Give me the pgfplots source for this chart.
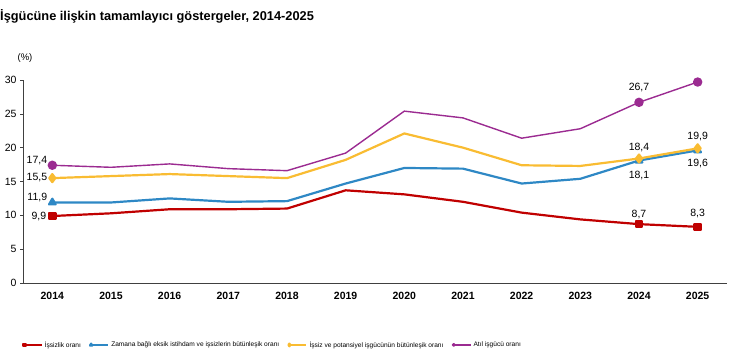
\documentclass[border=0pt]{standalone}
\usepackage{fontspec}
\setmainfont{Liberation Sans}
\usepackage{pgfplots}
\pgfplotsset{compat=1.18}
\definecolor{cred}{HTML}{C00000}
\definecolor{cblue}{HTML}{2E88C5}
\definecolor{cyel}{HTML}{F9BC32}
\definecolor{cpur}{HTML}{9B2B91}
\begin{document}
\begin{tikzpicture}[x=1pt,y=1pt]
\path[use as bounding box] (0,0) rectangle (730,360);
\node[anchor=base west,inner sep=0pt,font=\bfseries\fontsize{12.8}{14}\selectfont] at (0,340) {İşgücüne ilişkin tamamlayıcı göstergeler, 2014-2025};
\node[font=\fontsize{9.5}{11}\selectfont] at (25,302) {(\%)};
\begin{axis}[
  at={(23pt,77pt)}, anchor=south west,
  scale only axis, width=704pt, height=203pt,
  xmin=2013.5, xmax=2025.5, ymin=0, ymax=30,
  xtick={2014,...,2025}, ytick={0,5,...,30},
  /pgf/number format/1000 sep={},
  /pgf/number format/assume math mode=true,
  axis x line=bottom, axis y line=left,
  axis line style={-, black!75, line width=0.8pt},
  x tick label style={font=\bfseries\fontsize{10.5}{12}\selectfont, yshift=-3pt},
  y tick label style={font=\fontsize{10.5}{12}\selectfont},
  xtick style={draw=none},
  ytick style={black!75, line width=0.6pt},
  tick align=outside, major tick length=3pt,
  legend columns=4,
  legend style={at={(axis description cs:0,-0.305)}, anchor=west, draw=none,
    font=\fontsize{6.6}{8}\selectfont, inner sep=0pt,
    /tikz/every even column/.append style={column sep=7pt}},
  legend image post style={mark size=1.3pt},
  every axis plot/.append style={line join=round},
]
\addplot[color=cred, line width=2.2pt, mark=square*, mark size=3.2pt, mark options={solid}, mark indices={1,11,12}]
coordinates {(2014,9.9)(2015,10.3)(2016,10.9)(2017,10.9)(2018,11.0)(2019,13.7)(2020,13.1)(2021,12.0)(2022,10.4)(2023,9.4)(2024,8.7)(2025,8.3)};
\addlegendentry{İşsizlik oranı}
\addplot[color=cblue, line width=2.2pt, mark=triangle*, mark size=3.8pt, mark options={solid}, mark indices={1,11,12}]
coordinates {(2014,11.9)(2015,11.9)(2016,12.5)(2017,12.0)(2018,12.1)(2019,14.7)(2020,17.0)(2021,16.9)(2022,14.7)(2023,15.4)(2024,18.1)(2025,19.6)};
\addlegendentry{Zamana bağlı eksik istihdam ve işsizlerin bütünleşik oranı}
\addplot[color=cyel, line width=2.2pt, mark=diamond*, mark size=4pt, mark options={solid}, mark indices={1,11,12}]
coordinates {(2014,15.5)(2015,15.8)(2016,16.1)(2017,15.8)(2018,15.5)(2019,18.2)(2020,22.1)(2021,20.0)(2022,17.4)(2023,17.3)(2024,18.4)(2025,19.9)};
\addlegendentry{İşsiz ve potansiyel işgücünün bütünleşik oranı}
\addplot[color=cpur, line width=1.4pt, mark=*, mark size=4pt, mark options={solid}, mark indices={1,11,12}]
coordinates {(2014,17.4)(2015,17.1)(2016,17.6)(2017,16.9)(2018,16.6)(2019,19.2)(2020,25.4)(2021,24.4)(2022,21.4)(2023,22.8)(2024,26.7)(2025,29.7)};
\addlegendentry{Atıl işgücü oranı}
\begin{scope}[every node/.style={font=\fontsize{10.5}{12}\selectfont, inner sep=1pt}]
\node[anchor=east] at ([xshift=-4pt,yshift=5pt]axis cs:2014,17.4) {17,4};
\node[anchor=east] at ([xshift=-4pt,yshift=1pt]axis cs:2014,15.5) {15,5};
\node[anchor=east] at ([xshift=-4pt,yshift=5pt]axis cs:2014,11.9) {11,9};
\node[anchor=east] at ([xshift=-5pt]axis cs:2014,9.9) {9,9};
\node at ([yshift=15pt]axis cs:2024,26.7) {26,7};
\node at ([yshift=11pt]axis cs:2024,18.4) {18,4};
\node at ([yshift=-15pt]axis cs:2024,18.1) {18,1};
\node at ([yshift=10pt]axis cs:2024,8.7) {8,7};
\node at ([yshift=14pt]axis cs:2025,29.7) {29,7};
\node at ([yshift=12pt]axis cs:2025,19.9) {19,9};
\node at ([yshift=-13pt]axis cs:2025,19.6) {19,6};
\node at ([yshift=13pt]axis cs:2025,8.3) {8,3};
\end{scope}
\end{axis}
\end{tikzpicture}
\end{document}
